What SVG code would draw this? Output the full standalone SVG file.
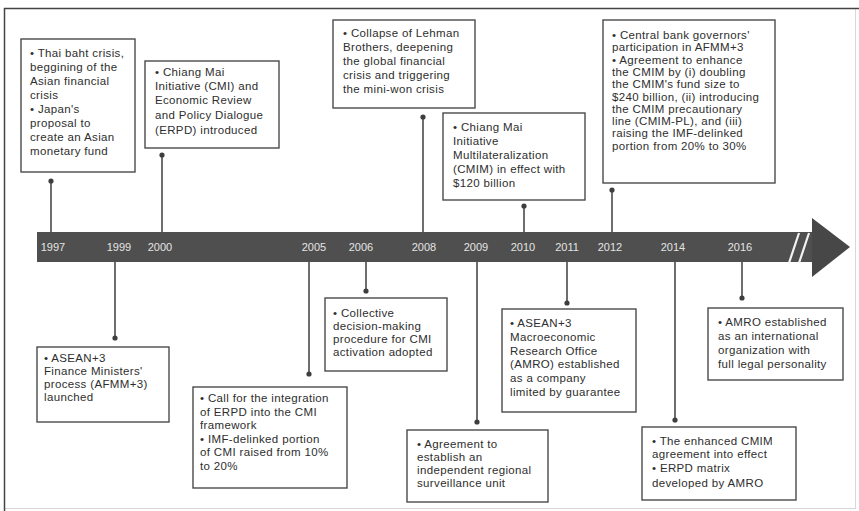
<svg xmlns="http://www.w3.org/2000/svg" width="859" height="511" viewBox="0 0 859 511">
<defs>
<style>
.box{fill:#fff;stroke:#4a4a4a;stroke-width:1.4}
.t{font-family:"Liberation Sans",Arial,sans-serif;font-size:11.5px;letter-spacing:0.35px;fill:#2e2e2e}
.yr{font-family:"Liberation Sans",Arial,sans-serif;font-size:11px;fill:#e4e4e4;text-anchor:middle}
.ln{stroke:#3e3e3e;stroke-width:1.5;fill:none}
.dot{fill:#3e3e3e}
</style>
</defs>
<rect x="0" y="0" width="859" height="511" fill="#fff"/>
<rect x="4.5" y="8.5" width="851" height="500" fill="none" stroke="#d8d8d8" stroke-width="1"/>
<line x1="4" y1="8.5" x2="859" y2="8.5" stroke="#444" stroke-width="1.5"/>
<line x1="4.5" y1="8" x2="4.5" y2="511" stroke="#444" stroke-width="1.5"/>

<g id="timeline">
<rect x="37" y="232" width="778" height="30" fill="#4f4f4f"/>
<polygon points="812,218 850,247 812,277" fill="#474747"/>
<line x1="789" y1="263" x2="799" y2="233" stroke="#f2f2f2" stroke-width="2.2"/>
<line x1="799" y1="263" x2="809" y2="233" stroke="#f2f2f2" stroke-width="2.2"/>
<text class="yr" x="53" y="251">1997</text>
<text class="yr" x="119" y="251">1999</text>
<text class="yr" x="160" y="251">2000</text>
<text class="yr" x="314" y="251">2005</text>
<text class="yr" x="361" y="251">2006</text>
<text class="yr" x="424" y="251">2008</text>
<text class="yr" x="476" y="251">2009</text>
<text class="yr" x="523" y="251">2010</text>
<text class="yr" x="567" y="251">2011</text>
<text class="yr" x="610" y="251">2012</text>
<text class="yr" x="673" y="251">2014</text>
<text class="yr" x="740" y="251">2016</text>
</g>

<g id="connectors">
<line class="ln" x1="51" y1="232" x2="51" y2="181"/><circle class="dot" cx="51" cy="181" r="2.6"/>
<line class="ln" x1="162" y1="232" x2="162" y2="155"/><circle class="dot" cx="162" cy="155" r="2.6"/>
<line class="ln" x1="423" y1="232" x2="423" y2="117"/><circle class="dot" cx="423" cy="117" r="2.6"/>
<line class="ln" x1="524" y1="232" x2="524" y2="206"/><circle class="dot" cx="524" cy="206" r="2.6"/>
<line class="ln" x1="612" y1="232" x2="612" y2="190"/><circle class="dot" cx="612" cy="190" r="2.6"/>
<line class="ln" x1="115" y1="262" x2="115" y2="338"/><circle class="dot" cx="115" cy="338" r="2.6"/>
<line class="ln" x1="309" y1="262" x2="309" y2="374"/><circle class="dot" cx="309" cy="374" r="2.6"/>
<line class="ln" x1="366" y1="262" x2="366" y2="291"/><circle class="dot" cx="366" cy="291" r="2.6"/>
<line class="ln" x1="477" y1="262" x2="477" y2="422"/><circle class="dot" cx="477" cy="422" r="2.6"/>
<line class="ln" x1="567" y1="262" x2="567" y2="303"/><circle class="dot" cx="567" cy="303" r="2.6"/>
<line class="ln" x1="675" y1="262" x2="675" y2="420"/><circle class="dot" cx="675" cy="420" r="2.6"/>
<line class="ln" x1="742" y1="262" x2="742" y2="298"/><circle class="dot" cx="742" cy="298" r="2.6"/>
</g>

<g id="n1997">
<rect class="box" x="21" y="39" width="114" height="133"/>
<text class="t"><tspan x="30" y="57">• Thai baht crisis,</tspan><tspan x="30" y="71">beggining of the</tspan><tspan x="30" y="85">Asian financial</tspan><tspan x="30" y="99">crisis</tspan><tspan x="30" y="113">• Japan's</tspan><tspan x="30" y="127">proposal to</tspan><tspan x="30" y="141">create an Asian</tspan><tspan x="30" y="155">monetary fund</tspan></text>
</g>

<g id="n2000">
<rect class="box" x="145" y="61" width="134" height="87"/>
<text class="t"><tspan x="155" y="76">• Chiang Mai</tspan><tspan x="155" y="90">Initiative (CMI) and</tspan><tspan x="155" y="104">Economic Review</tspan><tspan x="155" y="119">and Policy Dialogue</tspan><tspan x="155" y="134">(ERPD) introduced</tspan></text>
</g>

<g id="n2008">
<rect class="box" x="333" y="20" width="142" height="88"/>
<text class="t"><tspan x="343" y="37">• Collapse of Lehman</tspan><tspan x="343" y="51">Brothers, deepening</tspan><tspan x="343" y="65">the global financial</tspan><tspan x="343" y="79">crisis and triggering</tspan><tspan x="343" y="93">the mini-won crisis</tspan></text>
</g>

<g id="n2010">
<rect class="box" x="443" y="113" width="142" height="87"/>
<text class="t"><tspan x="453" y="131">• Chiang Mai</tspan><tspan x="453" y="145">Initiative</tspan><tspan x="453" y="159">Multilateralization</tspan><tspan x="453" y="173">(CMIM) in effect with</tspan><tspan x="453" y="187">$120 billion</tspan></text>
</g>

<g id="n2012">
<rect class="box" x="603" y="20" width="172" height="163"/>
<text class="t"><tspan x="612" y="39">• Central bank governors'</tspan><tspan x="612" y="51.3">participation in AFMM+3</tspan><tspan x="612" y="63.6">• Agreement to enhance</tspan><tspan x="612" y="75.9">the CMIM by (i) doubling</tspan><tspan x="612" y="88.2">the CMIM's fund size to</tspan><tspan x="612" y="100.5">$240 billion, (ii) introducing</tspan><tspan x="612" y="112.8">the CMIM precautionary</tspan><tspan x="612" y="125.1">line (CMIM-PL), and (iii)</tspan><tspan x="612" y="137.4">raising the IMF-delinked</tspan><tspan x="612" y="149.7">portion from 20% to 30%</tspan></text>
</g>

<g id="n1999">
<rect class="box" x="37" y="347" width="132" height="75"/>
<text class="t"><tspan x="44" y="362">• ASEAN+3</tspan><tspan x="44" y="375">Finance Ministers'</tspan><tspan x="44" y="388">process (AFMM+3)</tspan><tspan x="44" y="401">launched</tspan></text>
</g>

<g id="n2005">
<rect class="box" x="193" y="387" width="154" height="101"/>
<text class="t"><tspan x="200" y="402">• Call for the integration</tspan><tspan x="200" y="415.5">of ERPD into the CMI</tspan><tspan x="200" y="429">framework</tspan><tspan x="200" y="442.5">• IMF-delinked portion</tspan><tspan x="200" y="456">of CMI raised from 10%</tspan><tspan x="200" y="469.5">to 20%</tspan></text>
</g>

<g id="n2006">
<rect class="box" x="325" y="298" width="122" height="73"/>
<text class="t"><tspan x="333" y="317">• Collective</tspan><tspan x="333" y="330">decision-making</tspan><tspan x="333" y="343">procedure for CMI</tspan><tspan x="333" y="356">activation adopted</tspan></text>
</g>

<g id="n2009">
<rect class="box" x="407" y="430" width="141" height="72"/>
<text class="t"><tspan x="417" y="448">• Agreement to</tspan><tspan x="417" y="461">establish an</tspan><tspan x="417" y="474">independent regional</tspan><tspan x="417" y="487">surveillance unit</tspan></text>
</g>

<g id="n2011">
<rect class="box" x="502" y="309" width="134" height="103"/>
<text class="t"><tspan x="510" y="327">• ASEAN+3</tspan><tspan x="510" y="341">Macroeconomic</tspan><tspan x="510" y="355">Research Office</tspan><tspan x="510" y="368">(AMRO) established</tspan><tspan x="510" y="382">as a company</tspan><tspan x="510" y="396">limited by guarantee</tspan></text>
</g>

<g id="n2014">
<rect class="box" x="642" y="427" width="154" height="73"/>
<text class="t"><tspan x="652" y="445">• The enhanced CMIM</tspan><tspan x="652" y="458">agreement into effect</tspan><tspan x="652" y="472">• ERPD matrix</tspan><tspan x="652" y="487">developed by AMRO</tspan></text>
</g>

<g id="n2016">
<rect class="box" x="708" y="308" width="135" height="72"/>
<text class="t"><tspan x="718" y="326">• AMRO established</tspan><tspan x="718" y="340">as an international</tspan><tspan x="718" y="354">organization with</tspan><tspan x="718" y="368">full legal personality</tspan></text>
</g>
</svg>
